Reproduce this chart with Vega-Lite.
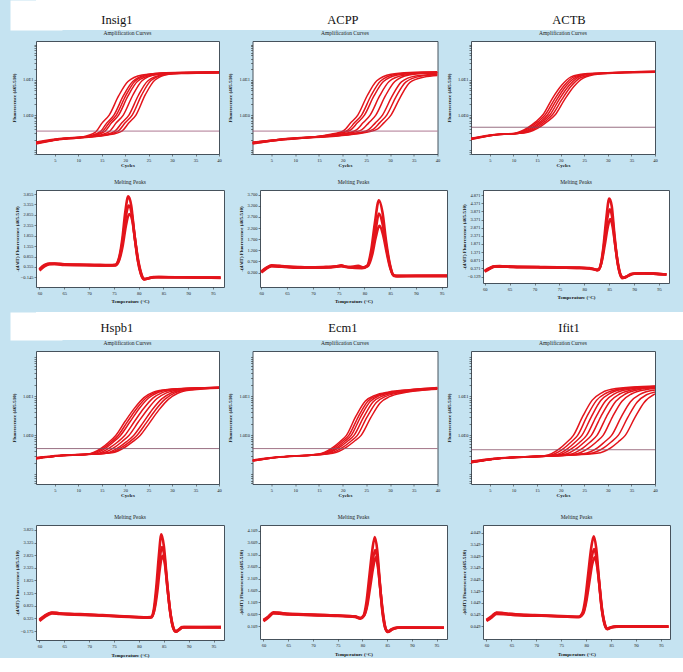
{
"$schema":"https://vega.github.io/schema/vega-lite/v6.json",
"background":"#c5e3f1",
"padding":{"left":10,"top":0,"right":0,"bottom":0},
"config":{
 "font":"Liberation Serif",
 "view":{"fill":"white","stroke":"#46525c","strokeWidth":1},
 "axis":{"grid":false,"domain":false,"tickSize":2,"tickColor":"#333","tickWidth":0.6,"labelFontSize":4.5,"labelColor":"#222","labelPadding":1,"labelOverlap":false,"labelFlush":false,"titleFontSize":5,"titleFontWeight":"bold","titleColor":"#111","labelFont":"Liberation Serif","titleFont":"Liberation Serif"},
 "axisX":{"titlePadding":0.5},
 "axisY":{"titlePadding":2},
 "title":{"fontSize":5.5,"fontWeight":"normal","color":"#222","offset":5,"font":"Liberation Serif"}
},
"datasets":{
"aI":[
{"c":1,"x":1,"y":0.15},{"c":1,"x":6,"y":0.2},{"c":1,"x":10.6,"y":0.235},{"c":1,"x":13.6,"y":0.32},{"c":1,"x":15.1,"y":0.6},{"c":1,"x":16.6,"y":1.0},{"c":1,"x":18.6,"y":3.5},{"c":1,"x":20.6,"y":9},{"c":1,"x":23.6,"y":13.8},{"c":1,"x":27.6,"y":15.6},{"c":1,"x":40,"y":16.5},
{"c":2,"x":1,"y":0.16},{"c":2,"x":6,"y":0.21},{"c":2,"x":11.6,"y":0.24},{"c":2,"x":14.6,"y":0.33},{"c":2,"x":16.1,"y":0.6},{"c":2,"x":17.6,"y":1.0},{"c":2,"x":19.6,"y":3.5},{"c":2,"x":21.6,"y":9},{"c":2,"x":24.6,"y":14},{"c":2,"x":28.6,"y":16},{"c":2,"x":40,"y":17},
{"c":3,"x":1,"y":0.17},{"c":3,"x":6,"y":0.215},{"c":3,"x":12.6,"y":0.25},{"c":3,"x":15.6,"y":0.34},{"c":3,"x":17.1,"y":0.6},{"c":3,"x":18.6,"y":1.0},{"c":3,"x":20.6,"y":3.5},{"c":3,"x":22.6,"y":9},{"c":3,"x":25.6,"y":13.5},{"c":3,"x":29.6,"y":15.3},{"c":3,"x":40,"y":16},
{"c":4,"x":1,"y":0.155},{"c":4,"x":6,"y":0.205},{"c":4,"x":13.6,"y":0.255},{"c":4,"x":16.6,"y":0.34},{"c":4,"x":18.1,"y":0.6},{"c":4,"x":19.6,"y":1.0},{"c":4,"x":21.6,"y":3.6},{"c":4,"x":23.6,"y":9.5},{"c":4,"x":26.6,"y":14.2},{"c":4,"x":30.6,"y":16},{"c":4,"x":40,"y":16.8},
{"c":5,"x":1,"y":0.165},{"c":5,"x":6,"y":0.21},{"c":5,"x":14.8,"y":0.26},{"c":5,"x":17.8,"y":0.35},{"c":5,"x":19.3,"y":0.6},{"c":5,"x":20.8,"y":1.0},{"c":5,"x":22.8,"y":3.6},{"c":5,"x":24.8,"y":9.3},{"c":5,"x":27.8,"y":13.8},{"c":5,"x":31.8,"y":15.2},{"c":5,"x":40,"y":15.8},
{"c":6,"x":1,"y":0.16},{"c":6,"x":6,"y":0.2},{"c":6,"x":16.3,"y":0.27},{"c":6,"x":19.3,"y":0.35},{"c":6,"x":20.8,"y":0.6},{"c":6,"x":22.3,"y":1.0},{"c":6,"x":24.3,"y":3.8},{"c":6,"x":26.3,"y":9.8},{"c":6,"x":29.3,"y":14.5},{"c":6,"x":33.3,"y":15.8},{"c":6,"x":40,"y":16.3},
{"c":7,"x":1,"y":0.165},{"c":7,"x":6,"y":0.21},{"c":7,"x":12.1,"y":0.245},{"c":7,"x":15.1,"y":0.335},{"c":7,"x":16.6,"y":0.6},{"c":7,"x":18.1,"y":1.0},{"c":7,"x":20.1,"y":3.5},{"c":7,"x":22.1,"y":9.2},{"c":7,"x":25.1,"y":13.9},{"c":7,"x":29.1,"y":15.8},{"c":7,"x":40,"y":16.6},
{"c":8,"x":1,"y":0.16},{"c":8,"x":6,"y":0.205},{"c":8,"x":15.5,"y":0.265},{"c":8,"x":18.5,"y":0.35},{"c":8,"x":20,"y":0.6},{"c":8,"x":21.5,"y":1.0},{"c":8,"x":23.5,"y":3.7},{"c":8,"x":25.5,"y":9.6},{"c":8,"x":28.5,"y":14.3},{"c":8,"x":32.5,"y":15.9},{"c":8,"x":40,"y":16.4}
],
"aA":[
{"c":1,"x":1,"y":0.16},{"c":1,"x":6,"y":0.19},{"c":1,"x":17.2,"y":0.28},{"c":1,"x":20.2,"y":0.36},{"c":1,"x":21.7,"y":0.6},{"c":1,"x":23.2,"y":1.0},{"c":1,"x":25.2,"y":3.6},{"c":1,"x":27.2,"y":9.5},{"c":1,"x":30.2,"y":14.5},{"c":1,"x":34.2,"y":16.3},{"c":1,"x":40,"y":17},
{"c":2,"x":1,"y":0.17},{"c":2,"x":6,"y":0.2},{"c":2,"x":18.6,"y":0.29},{"c":2,"x":21.6,"y":0.37},{"c":2,"x":23.1,"y":0.6},{"c":2,"x":24.6,"y":1.0},{"c":2,"x":26.6,"y":3.5},{"c":2,"x":28.6,"y":9},{"c":2,"x":31.6,"y":13.8},{"c":2,"x":35.6,"y":15.5},{"c":2,"x":40,"y":16},
{"c":3,"x":1,"y":0.15},{"c":3,"x":6,"y":0.19},{"c":3,"x":19.8,"y":0.29},{"c":3,"x":22.8,"y":0.37},{"c":3,"x":24.3,"y":0.6},{"c":3,"x":25.8,"y":1.0},{"c":3,"x":27.8,"y":3.5},{"c":3,"x":29.8,"y":9},{"c":3,"x":32.8,"y":13.5},{"c":3,"x":36.8,"y":15.4},{"c":3,"x":40,"y":15.8},
{"c":4,"x":1,"y":0.165},{"c":4,"x":6,"y":0.2},{"c":4,"x":21,"y":0.3},{"c":4,"x":24,"y":0.38},{"c":4,"x":25.5,"y":0.6},{"c":4,"x":27,"y":1.0},{"c":4,"x":29,"y":3.5},{"c":4,"x":31,"y":9},{"c":4,"x":34,"y":13.8},{"c":4,"x":38,"y":15.6},{"c":4,"x":40,"y":16},
{"c":5,"x":1,"y":0.16},{"c":5,"x":6,"y":0.195},{"c":5,"x":22.4,"y":0.3},{"c":5,"x":25.4,"y":0.38},{"c":5,"x":26.9,"y":0.6},{"c":5,"x":28.4,"y":1.0},{"c":5,"x":30.4,"y":3.4},{"c":5,"x":32.4,"y":8.8},{"c":5,"x":35.4,"y":13},{"c":5,"x":40,"y":14.5},
{"c":6,"x":1,"y":0.155},{"c":6,"x":6,"y":0.19},{"c":6,"x":24.2,"y":0.31},{"c":6,"x":27.2,"y":0.39},{"c":6,"x":28.7,"y":0.6},{"c":6,"x":30.2,"y":1.0},{"c":6,"x":32.2,"y":3.3},{"c":6,"x":34.2,"y":8.5},{"c":6,"x":37.2,"y":12},{"c":6,"x":40,"y":13.3},
{"c":7,"x":1,"y":0.16},{"c":7,"x":6,"y":0.195},{"c":7,"x":18,"y":0.285},{"c":7,"x":21,"y":0.365},{"c":7,"x":22.5,"y":0.6},{"c":7,"x":24,"y":1.0},{"c":7,"x":26,"y":3.6},{"c":7,"x":28,"y":9.3},{"c":7,"x":31,"y":14.2},{"c":7,"x":35,"y":16},{"c":7,"x":40,"y":16.6},
{"c":8,"x":1,"y":0.165},{"c":8,"x":6,"y":0.2},{"c":8,"x":23.3,"y":0.305},{"c":8,"x":26.3,"y":0.385},{"c":8,"x":27.8,"y":0.6},{"c":8,"x":29.3,"y":1.0},{"c":8,"x":31.3,"y":3.4},{"c":8,"x":33.3,"y":8.7},{"c":8,"x":36.3,"y":12.6},{"c":8,"x":40,"y":14}
],
"aT":[
{"c":1,"x":1,"y":0.2},{"c":1,"x":6,"y":0.27},{"c":1,"x":10.2,"y":0.3},{"c":1,"x":13.2,"y":0.45},{"c":1,"x":14.7,"y":0.64},{"c":1,"x":16.2,"y":1.0},{"c":1,"x":18.2,"y":2.9},{"c":1,"x":20.2,"y":7},{"c":1,"x":22.2,"y":12.2},{"c":1,"x":25.2,"y":15},{"c":1,"x":30,"y":16},{"c":1,"x":40,"y":17.5},
{"c":2,"x":1,"y":0.21},{"c":2,"x":6,"y":0.275},{"c":2,"x":10.7,"y":0.305},{"c":2,"x":13.7,"y":0.46},{"c":2,"x":15.2,"y":0.65},{"c":2,"x":16.7,"y":1.0},{"c":2,"x":18.7,"y":2.8},{"c":2,"x":20.7,"y":6.8},{"c":2,"x":22.7,"y":12},{"c":2,"x":25.7,"y":14.8},{"c":2,"x":30,"y":15.8},{"c":2,"x":40,"y":17},
{"c":3,"x":1,"y":0.22},{"c":3,"x":6,"y":0.28},{"c":3,"x":11.2,"y":0.31},{"c":3,"x":14.2,"y":0.46},{"c":3,"x":15.7,"y":0.65},{"c":3,"x":17.2,"y":1.0},{"c":3,"x":19.2,"y":2.8},{"c":3,"x":21.2,"y":6.8},{"c":3,"x":23.2,"y":11.8},{"c":3,"x":26.2,"y":14.8},{"c":3,"x":30,"y":15.8},{"c":3,"x":40,"y":17.2},
{"c":4,"x":1,"y":0.205},{"c":4,"x":6,"y":0.27},{"c":4,"x":11.7,"y":0.31},{"c":4,"x":14.7,"y":0.47},{"c":4,"x":16.2,"y":0.66},{"c":4,"x":17.7,"y":1.0},{"c":4,"x":19.7,"y":2.8},{"c":4,"x":21.7,"y":6.7},{"c":4,"x":23.7,"y":11.8},{"c":4,"x":26.7,"y":15},{"c":4,"x":31,"y":16},{"c":4,"x":40,"y":17.6},
{"c":5,"x":1,"y":0.215},{"c":5,"x":6,"y":0.275},{"c":5,"x":12.2,"y":0.315},{"c":5,"x":15.2,"y":0.47},{"c":5,"x":16.7,"y":0.66},{"c":5,"x":18.2,"y":1.0},{"c":5,"x":20.2,"y":2.7},{"c":5,"x":22.2,"y":6.6},{"c":5,"x":24.2,"y":11.5},{"c":5,"x":27.2,"y":14.6},{"c":5,"x":31,"y":15.6},{"c":5,"x":40,"y":16.8},
{"c":6,"x":1,"y":0.21},{"c":6,"x":6,"y":0.27},{"c":6,"x":12.8,"y":0.32},{"c":6,"x":15.8,"y":0.48},{"c":6,"x":17.3,"y":0.67},{"c":6,"x":18.8,"y":1.0},{"c":6,"x":20.8,"y":2.7},{"c":6,"x":22.8,"y":6.5},{"c":6,"x":24.8,"y":11.3},{"c":6,"x":27.8,"y":14.5},{"c":6,"x":32,"y":15.6},{"c":6,"x":40,"y":16.5}
],
"aH":[
{"c":1,"x":1,"y":0.25},{"c":1,"x":6,"y":0.3},{"c":1,"x":12,"y":0.33},{"c":1,"x":15,"y":0.48},{"c":1,"x":16.5,"y":0.67},{"c":1,"x":18,"y":1.0},{"c":1,"x":20,"y":2.3},{"c":1,"x":22,"y":5},{"c":1,"x":24,"y":9.3},{"c":1,"x":26,"y":12.8},{"c":1,"x":29,"y":15},{"c":1,"x":40,"y":16.8},
{"c":2,"x":1,"y":0.26},{"c":2,"x":6,"y":0.3},{"c":2,"x":13,"y":0.335},{"c":2,"x":16,"y":0.49},{"c":2,"x":17.5,"y":0.68},{"c":2,"x":19,"y":1.0},{"c":2,"x":21,"y":2.2},{"c":2,"x":23,"y":4.9},{"c":2,"x":25,"y":9.1},{"c":2,"x":27,"y":12.6},{"c":2,"x":30,"y":15},{"c":2,"x":40,"y":17},
{"c":3,"x":1,"y":0.27},{"c":3,"x":6,"y":0.31},{"c":3,"x":13.9,"y":0.34},{"c":3,"x":16.9,"y":0.5},{"c":3,"x":18.4,"y":0.68},{"c":3,"x":19.9,"y":1.0},{"c":3,"x":21.9,"y":2.2},{"c":3,"x":23.9,"y":4.8},{"c":3,"x":25.9,"y":9},{"c":3,"x":27.9,"y":12.5},{"c":3,"x":30.9,"y":15},{"c":3,"x":40,"y":17.2},
{"c":4,"x":1,"y":0.255},{"c":4,"x":6,"y":0.3},{"c":4,"x":14.8,"y":0.345},{"c":4,"x":17.8,"y":0.5},{"c":4,"x":19.3,"y":0.69},{"c":4,"x":20.8,"y":1.0},{"c":4,"x":22.8,"y":2.2},{"c":4,"x":24.8,"y":4.7},{"c":4,"x":26.8,"y":8.8},{"c":4,"x":28.8,"y":12.3},{"c":4,"x":31.8,"y":14.8},{"c":4,"x":40,"y":16.5},
{"c":5,"x":1,"y":0.265},{"c":5,"x":6,"y":0.305},{"c":5,"x":15.8,"y":0.35},{"c":5,"x":18.8,"y":0.51},{"c":5,"x":20.3,"y":0.69},{"c":5,"x":21.8,"y":1.0},{"c":5,"x":23.8,"y":2.1},{"c":5,"x":25.8,"y":4.6},{"c":5,"x":27.8,"y":8.6},{"c":5,"x":29.8,"y":12.2},{"c":5,"x":32.8,"y":14.8},{"c":5,"x":40,"y":16.6},
{"c":6,"x":1,"y":0.26},{"c":6,"x":6,"y":0.3},{"c":6,"x":17.2,"y":0.36},{"c":6,"x":20.2,"y":0.52},{"c":6,"x":21.7,"y":0.7},{"c":6,"x":23.2,"y":1.0},{"c":6,"x":25.2,"y":2.1},{"c":6,"x":27.2,"y":4.5},{"c":6,"x":29.2,"y":8.4},{"c":6,"x":31.2,"y":12},{"c":6,"x":34.2,"y":14.6},{"c":6,"x":40,"y":16.2},
{"c":7,"x":1,"y":0.26},{"c":7,"x":6,"y":0.3},{"c":7,"x":12.5,"y":0.333},{"c":7,"x":15.5,"y":0.485},{"c":7,"x":17,"y":0.675},{"c":7,"x":18.5,"y":1.0},{"c":7,"x":20.5,"y":2.25},{"c":7,"x":22.5,"y":4.95},{"c":7,"x":24.5,"y":9.2},{"c":7,"x":26.5,"y":12.7},{"c":7,"x":29.5,"y":15},{"c":7,"x":40,"y":16.9},
{"c":8,"x":1,"y":0.262},{"c":8,"x":6,"y":0.302},{"c":8,"x":16.5,"y":0.355},{"c":8,"x":19.5,"y":0.515},{"c":8,"x":21,"y":0.695},{"c":8,"x":22.5,"y":1.0},{"c":8,"x":24.5,"y":2.1},{"c":8,"x":26.5,"y":4.55},{"c":8,"x":28.5,"y":8.5},{"c":8,"x":30.5,"y":12.1},{"c":8,"x":33.5,"y":14.7},{"c":8,"x":40,"y":16.4}
],
"aE":[
{"c":1,"x":1,"y":0.22},{"c":1,"x":6,"y":0.27},{"c":1,"x":14.8,"y":0.33},{"c":1,"x":17.8,"y":0.48},{"c":1,"x":19.3,"y":0.67},{"c":1,"x":20.8,"y":1.0},{"c":1,"x":22.8,"y":3.1},{"c":1,"x":24.8,"y":7.6},{"c":1,"x":26.8,"y":10.6},{"c":1,"x":29.8,"y":13},{"c":1,"x":34,"y":14.8},{"c":1,"x":40,"y":16.5},
{"c":2,"x":1,"y":0.23},{"c":2,"x":6,"y":0.275},{"c":2,"x":15.3,"y":0.335},{"c":2,"x":18.3,"y":0.49},{"c":2,"x":19.8,"y":0.68},{"c":2,"x":21.3,"y":1.0},{"c":2,"x":23.3,"y":3},{"c":2,"x":25.3,"y":7.5},{"c":2,"x":27.3,"y":10.5},{"c":2,"x":30.3,"y":13},{"c":2,"x":34,"y":14.6},{"c":2,"x":40,"y":16.8},
{"c":3,"x":1,"y":0.235},{"c":3,"x":6,"y":0.28},{"c":3,"x":15.8,"y":0.34},{"c":3,"x":18.8,"y":0.49},{"c":3,"x":20.3,"y":0.68},{"c":3,"x":21.8,"y":1.0},{"c":3,"x":23.8,"y":3},{"c":3,"x":25.8,"y":7.4},{"c":3,"x":27.8,"y":10.4},{"c":3,"x":30.8,"y":12.8},{"c":3,"x":35,"y":14.6},{"c":3,"x":40,"y":16.2},
{"c":4,"x":1,"y":0.225},{"c":4,"x":6,"y":0.27},{"c":4,"x":16.4,"y":0.34},{"c":4,"x":19.4,"y":0.5},{"c":4,"x":20.9,"y":0.69},{"c":4,"x":22.4,"y":1.0},{"c":4,"x":24.4,"y":2.9},{"c":4,"x":26.4,"y":7.2},{"c":4,"x":28.4,"y":10.2},{"c":4,"x":31.4,"y":12.6},{"c":4,"x":35,"y":14.3},{"c":4,"x":40,"y":16},
{"c":5,"x":1,"y":0.23},{"c":5,"x":6,"y":0.275},{"c":5,"x":17.1,"y":0.345},{"c":5,"x":20.1,"y":0.5},{"c":5,"x":21.6,"y":0.69},{"c":5,"x":23.1,"y":1.0},{"c":5,"x":25.1,"y":2.9},{"c":5,"x":27.1,"y":7},{"c":5,"x":29.1,"y":10},{"c":5,"x":32.1,"y":12.5},{"c":5,"x":36,"y":14.3},{"c":5,"x":40,"y":15.6},
{"c":6,"x":1,"y":0.22},{"c":6,"x":6,"y":0.27},{"c":6,"x":17.9,"y":0.35},{"c":6,"x":20.9,"y":0.51},{"c":6,"x":22.4,"y":0.7},{"c":6,"x":23.9,"y":1.0},{"c":6,"x":25.9,"y":2.8},{"c":6,"x":27.9,"y":6.8},{"c":6,"x":29.9,"y":9.8},{"c":6,"x":32.9,"y":12.4},{"c":6,"x":36,"y":14},{"c":6,"x":40,"y":15.2}
],
"aF":[
{"c":1,"x":1,"y":0.2},{"c":1,"x":6,"y":0.25},{"c":1,"x":16.7,"y":0.3},{"c":1,"x":19.7,"y":0.45},{"c":1,"x":21.2,"y":0.65},{"c":1,"x":22.7,"y":1.0},{"c":1,"x":24.7,"y":3.1},{"c":1,"x":26.7,"y":8},{"c":1,"x":28.7,"y":12.3},{"c":1,"x":31.7,"y":15.8},{"c":1,"x":40,"y":18.3},
{"c":2,"x":1,"y":0.21},{"c":2,"x":6,"y":0.255},{"c":2,"x":17.6,"y":0.31},{"c":2,"x":20.6,"y":0.46},{"c":2,"x":22.1,"y":0.66},{"c":2,"x":23.6,"y":1.0},{"c":2,"x":25.6,"y":3.1},{"c":2,"x":27.6,"y":7.9},{"c":2,"x":29.6,"y":12},{"c":2,"x":32.6,"y":15.5},{"c":2,"x":40,"y":18},
{"c":3,"x":1,"y":0.22},{"c":3,"x":6,"y":0.26},{"c":3,"x":18.5,"y":0.31},{"c":3,"x":21.5,"y":0.46},{"c":3,"x":23,"y":0.66},{"c":3,"x":24.5,"y":1.0},{"c":3,"x":26.5,"y":3},{"c":3,"x":28.5,"y":7.8},{"c":3,"x":30.5,"y":12},{"c":3,"x":33.5,"y":15.5},{"c":3,"x":40,"y":17.8},
{"c":4,"x":1,"y":0.205},{"c":4,"x":6,"y":0.25},{"c":4,"x":19.5,"y":0.315},{"c":4,"x":22.5,"y":0.47},{"c":4,"x":24,"y":0.66},{"c":4,"x":25.5,"y":1.0},{"c":4,"x":27.5,"y":3},{"c":4,"x":29.5,"y":7.6},{"c":4,"x":31.5,"y":11.8},{"c":4,"x":34.5,"y":15.2},{"c":4,"x":40,"y":17.5},
{"c":5,"x":1,"y":0.215},{"c":5,"x":6,"y":0.255},{"c":5,"x":20.5,"y":0.32},{"c":5,"x":23.5,"y":0.47},{"c":5,"x":25,"y":0.67},{"c":5,"x":26.5,"y":1.0},{"c":5,"x":28.5,"y":3},{"c":5,"x":30.5,"y":7.5},{"c":5,"x":32.5,"y":11.5},{"c":5,"x":35.5,"y":15},{"c":5,"x":40,"y":17},
{"c":6,"x":1,"y":0.21},{"c":6,"x":6,"y":0.25},{"c":6,"x":23,"y":0.33},{"c":6,"x":26,"y":0.48},{"c":6,"x":27.5,"y":0.67},{"c":6,"x":29,"y":1.0},{"c":6,"x":31,"y":3},{"c":6,"x":33,"y":7.5},{"c":6,"x":35,"y":11.5},{"c":6,"x":38,"y":14.8},{"c":6,"x":40,"y":15.8},
{"c":7,"x":1,"y":0.2},{"c":7,"x":6,"y":0.245},{"c":7,"x":24.8,"y":0.34},{"c":7,"x":27.8,"y":0.48},{"c":7,"x":29.3,"y":0.68},{"c":7,"x":30.8,"y":1.0},{"c":7,"x":32.8,"y":2.9},{"c":7,"x":34.8,"y":7.3},{"c":7,"x":36.8,"y":11.2},{"c":7,"x":40,"y":14.5},
{"c":8,"x":1,"y":0.21},{"c":8,"x":6,"y":0.25},{"c":8,"x":27.7,"y":0.35},{"c":8,"x":30.7,"y":0.49},{"c":8,"x":32.2,"y":0.68},{"c":8,"x":33.7,"y":1.0},{"c":8,"x":35.7,"y":2.8},{"c":8,"x":37.7,"y":7},{"c":8,"x":40,"y":11.5},
{"c":9,"x":1,"y":0.21},{"c":9,"x":6,"y":0.25},{"c":9,"x":21.7,"y":0.325},{"c":9,"x":24.7,"y":0.475},{"c":9,"x":26.2,"y":0.67},{"c":9,"x":27.7,"y":1.0},{"c":9,"x":29.7,"y":3},{"c":9,"x":31.7,"y":7.5},{"c":9,"x":33.7,"y":11.5},{"c":9,"x":36.7,"y":15},{"c":9,"x":40,"y":16.5},
{"c":10,"x":1,"y":0.205},{"c":10,"x":6,"y":0.25},{"c":10,"x":26.2,"y":0.345},{"c":10,"x":29.2,"y":0.485},{"c":10,"x":30.7,"y":0.68},{"c":10,"x":32.2,"y":1.0},{"c":10,"x":34.2,"y":2.85},{"c":10,"x":36.2,"y":7.1},{"c":10,"x":38.2,"y":11},{"c":10,"x":40,"y":13}
],
"mI":[
{"c":1,"x":60,"y":0.22},{"c":1,"x":61,"y":0.42},{"c":1,"x":62,"y":0.52},{"c":1,"x":63,"y":0.52},{"c":1,"x":65,"y":0.48},{"c":1,"x":68,"y":0.47},{"c":1,"x":71,"y":0.46},{"c":1,"x":74,"y":0.44},{"c":1,"x":75.3,"y":0.46},{"c":1,"x":76,"y":0.75},{"c":1,"x":76.7,"y":1.7},{"c":1,"x":77.3,"y":3.0},{"c":1,"x":77.9,"y":3.75},{"c":1,"x":78.5,"y":3.3},{"c":1,"x":79.1,"y":2.0},{"c":1,"x":79.8,"y":0.7},{"c":1,"x":80.4,"y":0.05},{"c":1,"x":81,"y":-0.22},{"c":1,"x":81.8,"y":-0.2},{"c":1,"x":83,"y":-0.13},{"c":1,"x":86,"y":-0.14},{"c":1,"x":90,"y":-0.14},{"c":1,"x":96.5,"y":-0.17},
{"c":2,"x":60,"y":0.18},{"c":2,"x":61,"y":0.38},{"c":2,"x":62,"y":0.48},{"c":2,"x":63,"y":0.5},{"c":2,"x":65,"y":0.45},{"c":2,"x":68,"y":0.44},{"c":2,"x":71,"y":0.43},{"c":2,"x":74,"y":0.42},{"c":2,"x":75.3,"y":0.44},{"c":2,"x":76,"y":0.7},{"c":2,"x":76.7,"y":1.5},{"c":2,"x":77.3,"y":2.6},{"c":2,"x":78,"y":3.3},{"c":2,"x":78.6,"y":2.9},{"c":2,"x":79.2,"y":1.8},{"c":2,"x":79.9,"y":0.6},{"c":2,"x":80.5,"y":0.0},{"c":2,"x":81.1,"y":-0.25},{"c":2,"x":82,"y":-0.19},{"c":2,"x":83.5,"y":-0.14},{"c":2,"x":90,"y":-0.15},{"c":2,"x":96.5,"y":-0.16},
{"c":3,"x":60,"y":0.25},{"c":3,"x":61,"y":0.45},{"c":3,"x":62,"y":0.5},{"c":3,"x":64,"y":0.49},{"c":3,"x":67,"y":0.46},{"c":3,"x":70,"y":0.44},{"c":3,"x":73,"y":0.42},{"c":3,"x":75.3,"y":0.43},{"c":3,"x":76.1,"y":0.7},{"c":3,"x":76.8,"y":1.4},{"c":3,"x":77.4,"y":2.3},{"c":3,"x":78.1,"y":2.9},{"c":3,"x":78.7,"y":2.6},{"c":3,"x":79.3,"y":1.6},{"c":3,"x":80,"y":0.55},{"c":3,"x":80.6,"y":-0.02},{"c":3,"x":81.2,"y":-0.24},{"c":3,"x":82.2,"y":-0.18},{"c":3,"x":84,"y":-0.13},{"c":3,"x":92,"y":-0.15},{"c":3,"x":96.5,"y":-0.16}
],
"mA":[
{"c":1,"x":60,"y":0.22},{"c":1,"x":61,"y":0.4},{"c":1,"x":62,"y":0.52},{"c":1,"x":63.5,"y":0.5},{"c":1,"x":66,"y":0.45},{"c":1,"x":69,"y":0.44},{"c":1,"x":72,"y":0.45},{"c":1,"x":74.5,"y":0.47},{"c":1,"x":75.5,"y":0.52},{"c":1,"x":76.5,"y":0.46},{"c":1,"x":78,"y":0.44},{"c":1,"x":79.5,"y":0.42},{"c":1,"x":80.5,"y":0.5},{"c":1,"x":81.3,"y":1.2},{"c":1,"x":82,"y":2.4},{"c":1,"x":82.8,"y":3.45},{"c":1,"x":83.5,"y":2.9},{"c":1,"x":84.2,"y":1.6},{"c":1,"x":84.9,"y":0.6},{"c":1,"x":85.5,"y":0.12},{"c":1,"x":86,"y":0.05},{"c":1,"x":88,"y":0.05},{"c":1,"x":96,"y":0.05},
{"c":2,"x":60,"y":0.2},{"c":2,"x":61,"y":0.38},{"c":2,"x":62,"y":0.48},{"c":2,"x":64,"y":0.46},{"c":2,"x":67,"y":0.42},{"c":2,"x":70,"y":0.42},{"c":2,"x":73,"y":0.43},{"c":2,"x":75.5,"y":0.48},{"c":2,"x":77,"y":0.43},{"c":2,"x":79.5,"y":0.4},{"c":2,"x":80.6,"y":0.5},{"c":2,"x":81.4,"y":1.1},{"c":2,"x":82.1,"y":2.0},{"c":2,"x":82.8,"y":2.85},{"c":2,"x":83.5,"y":2.4},{"c":2,"x":84.2,"y":1.4},{"c":2,"x":84.9,"y":0.55},{"c":2,"x":85.6,"y":0.08},{"c":2,"x":86.3,"y":0.04},{"c":2,"x":90,"y":0.05},{"c":2,"x":96,"y":0.05},
{"c":3,"x":60,"y":0.25},{"c":3,"x":61,"y":0.42},{"c":3,"x":62,"y":0.5},{"c":3,"x":64,"y":0.48},{"c":3,"x":67,"y":0.45},{"c":3,"x":70,"y":0.43},{"c":3,"x":73,"y":0.44},{"c":3,"x":75.5,"y":0.5},{"c":3,"x":77,"y":0.45},{"c":3,"x":78.8,"y":0.5},{"c":3,"x":79.8,"y":0.43},{"c":3,"x":80.7,"y":0.5},{"c":3,"x":81.5,"y":1.0},{"c":3,"x":82.2,"y":1.8},{"c":3,"x":82.9,"y":2.3},{"c":3,"x":83.6,"y":1.9},{"c":3,"x":84.3,"y":1.1},{"c":3,"x":85,"y":0.4},{"c":3,"x":85.7,"y":0.05},{"c":3,"x":86.5,"y":0.04},{"c":3,"x":96,"y":0.05}
],
"mT":[
{"c":1,"x":60,"y":0.2},{"c":1,"x":61,"y":0.38},{"c":1,"x":62,"y":0.5},{"c":1,"x":63,"y":0.52},{"c":1,"x":65,"y":0.47},{"c":1,"x":68,"y":0.46},{"c":1,"x":72,"y":0.45},{"c":1,"x":76,"y":0.43},{"c":1,"x":79,"y":0.42},{"c":1,"x":81,"y":0.4},{"c":1,"x":82,"y":0.33},{"c":1,"x":82.6,"y":0.25},{"c":1,"x":83.2,"y":0.5},{"c":1,"x":83.8,"y":1.6},{"c":1,"x":84.4,"y":3.4},{"c":1,"x":85,"y":4.65},{"c":1,"x":85.5,"y":4.2},{"c":1,"x":86,"y":2.6},{"c":1,"x":86.6,"y":0.9},{"c":1,"x":87.2,"y":0.0},{"c":1,"x":87.6,"y":-0.22},{"c":1,"x":88.3,"y":-0.15},{"c":1,"x":89.5,"y":0.05},{"c":1,"x":92,"y":0.08},{"c":1,"x":96.5,"y":0.0},
{"c":2,"x":60,"y":0.17},{"c":2,"x":61,"y":0.35},{"c":2,"x":62,"y":0.48},{"c":2,"x":64,"y":0.48},{"c":2,"x":67,"y":0.45},{"c":2,"x":71,"y":0.44},{"c":2,"x":75,"y":0.42},{"c":2,"x":79,"y":0.4},{"c":2,"x":81.2,"y":0.37},{"c":2,"x":82.2,"y":0.3},{"c":2,"x":82.8,"y":0.28},{"c":2,"x":83.4,"y":0.7},{"c":2,"x":84,"y":1.9},{"c":2,"x":84.6,"y":3.4},{"c":2,"x":85.1,"y":4.0},{"c":2,"x":85.6,"y":3.5},{"c":2,"x":86.1,"y":2.1},{"c":2,"x":86.7,"y":0.7},{"c":2,"x":87.3,"y":-0.05},{"c":2,"x":87.8,"y":-0.2},{"c":2,"x":88.5,"y":-0.12},{"c":2,"x":90,"y":0.05},{"c":2,"x":92,"y":0.07},{"c":2,"x":96.5,"y":0.0},
{"c":3,"x":60,"y":0.23},{"c":3,"x":61,"y":0.4},{"c":3,"x":62,"y":0.5},{"c":3,"x":64,"y":0.5},{"c":3,"x":67,"y":0.47},{"c":3,"x":71,"y":0.45},{"c":3,"x":75,"y":0.43},{"c":3,"x":79,"y":0.41},{"c":3,"x":81.2,"y":0.36},{"c":3,"x":82.2,"y":0.3},{"c":3,"x":82.9,"y":0.32},{"c":3,"x":83.5,"y":0.8},{"c":3,"x":84.1,"y":1.8},{"c":3,"x":84.7,"y":2.9},{"c":3,"x":85.2,"y":3.4},{"c":3,"x":85.7,"y":2.9},{"c":3,"x":86.2,"y":1.8},{"c":3,"x":86.8,"y":0.6},{"c":3,"x":87.4,"y":-0.1},{"c":3,"x":88,"y":-0.2},{"c":3,"x":88.8,"y":-0.08},{"c":3,"x":90,"y":0.06},{"c":3,"x":92,"y":0.07},{"c":3,"x":96.5,"y":0.0}
],
"mH":[
{"c":1,"x":60,"y":0.25},{"c":1,"x":61,"y":0.4},{"c":1,"x":62.5,"y":0.55},{"c":1,"x":64,"y":0.52},{"c":1,"x":67,"y":0.5},{"c":1,"x":70,"y":0.48},{"c":1,"x":74,"y":0.44},{"c":1,"x":78,"y":0.4},{"c":1,"x":81,"y":0.37},{"c":1,"x":82.4,"y":0.38},{"c":1,"x":83,"y":0.7},{"c":1,"x":83.5,"y":1.6},{"c":1,"x":84,"y":2.8},{"c":1,"x":84.5,"y":3.65},{"c":1,"x":85,"y":3.2},{"c":1,"x":85.6,"y":1.9},{"c":1,"x":86.2,"y":0.7},{"c":1,"x":86.8,"y":0.0},{"c":1,"x":87.3,"y":-0.18},{"c":1,"x":88,"y":-0.12},{"c":1,"x":88.6,"y":-0.02},{"c":1,"x":92,"y":-0.02},{"c":1,"x":96.5,"y":-0.02},
{"c":2,"x":60,"y":0.22},{"c":2,"x":61,"y":0.37},{"c":2,"x":62.5,"y":0.52},{"c":2,"x":64,"y":0.5},{"c":2,"x":67,"y":0.47},{"c":2,"x":70,"y":0.45},{"c":2,"x":74,"y":0.42},{"c":2,"x":78,"y":0.38},{"c":2,"x":81,"y":0.35},{"c":2,"x":82.5,"y":0.36},{"c":2,"x":83.1,"y":0.7},{"c":2,"x":83.6,"y":1.5},{"c":2,"x":84.1,"y":2.5},{"c":2,"x":84.6,"y":3.15},{"c":2,"x":85.1,"y":2.8},{"c":2,"x":85.7,"y":1.6},{"c":2,"x":86.3,"y":0.55},{"c":2,"x":86.9,"y":-0.05},{"c":2,"x":87.4,"y":-0.2},{"c":2,"x":88.1,"y":-0.12},{"c":2,"x":88.8,"y":-0.03},{"c":2,"x":96.5,"y":-0.02},
{"c":3,"x":60,"y":0.28},{"c":3,"x":61,"y":0.43},{"c":3,"x":62.5,"y":0.56},{"c":3,"x":64,"y":0.53},{"c":3,"x":67,"y":0.49},{"c":3,"x":71,"y":0.46},{"c":3,"x":75,"y":0.42},{"c":3,"x":79,"y":0.38},{"c":3,"x":82,"y":0.35},{"c":3,"x":82.6,"y":0.4},{"c":3,"x":83.2,"y":0.75},{"c":3,"x":83.7,"y":1.4},{"c":3,"x":84.2,"y":2.3},{"c":3,"x":84.7,"y":2.8},{"c":3,"x":85.2,"y":2.5},{"c":3,"x":85.8,"y":1.4},{"c":3,"x":86.4,"y":0.45},{"c":3,"x":87,"y":-0.08},{"c":3,"x":87.5,"y":-0.2},{"c":3,"x":88.2,"y":-0.1},{"c":3,"x":89,"y":-0.02},{"c":3,"x":96.5,"y":-0.03}
],
"mE":[
{"c":1,"x":60,"y":0.35},{"c":1,"x":61,"y":0.5},{"c":1,"x":62,"y":0.68},{"c":1,"x":63,"y":0.68},{"c":1,"x":65,"y":0.62},{"c":1,"x":68,"y":0.6},{"c":1,"x":72,"y":0.58},{"c":1,"x":76,"y":0.55},{"c":1,"x":78.5,"y":0.52},{"c":1,"x":79.5,"y":0.45},{"c":1,"x":80.2,"y":0.55},{"c":1,"x":80.8,"y":1.1},{"c":1,"x":81.4,"y":2.2},{"c":1,"x":82,"y":3.3},{"c":1,"x":82.5,"y":3.85},{"c":1,"x":83,"y":3.3},{"c":1,"x":83.5,"y":2.0},{"c":1,"x":84,"y":0.8},{"c":1,"x":84.6,"y":0.05},{"c":1,"x":85.1,"y":-0.12},{"c":1,"x":85.8,"y":-0.02},{"c":1,"x":87,"y":0.06},{"c":1,"x":90,"y":0.06},{"c":1,"x":96.5,"y":0.05},
{"c":2,"x":60,"y":0.32},{"c":2,"x":61,"y":0.48},{"c":2,"x":62,"y":0.65},{"c":2,"x":64,"y":0.62},{"c":2,"x":67,"y":0.6},{"c":2,"x":71,"y":0.57},{"c":2,"x":75,"y":0.54},{"c":2,"x":78.5,"y":0.5},{"c":2,"x":79.6,"y":0.43},{"c":2,"x":80.3,"y":0.55},{"c":2,"x":80.9,"y":1.0},{"c":2,"x":81.5,"y":2.0},{"c":2,"x":82.1,"y":2.9},{"c":2,"x":82.6,"y":3.3},{"c":2,"x":83.1,"y":2.8},{"c":2,"x":83.6,"y":1.7},{"c":2,"x":84.1,"y":0.7},{"c":2,"x":84.7,"y":0.0},{"c":2,"x":85.2,"y":-0.12},{"c":2,"x":86,"y":-0.02},{"c":2,"x":87.5,"y":0.06},{"c":2,"x":96.5,"y":0.05},
{"c":3,"x":60,"y":0.38},{"c":3,"x":61,"y":0.52},{"c":3,"x":62,"y":0.7},{"c":3,"x":64,"y":0.66},{"c":3,"x":67,"y":0.62},{"c":3,"x":71,"y":0.59},{"c":3,"x":75,"y":0.56},{"c":3,"x":78.5,"y":0.53},{"c":3,"x":79.7,"y":0.46},{"c":3,"x":80.4,"y":0.58},{"c":3,"x":81,"y":1.0},{"c":3,"x":81.6,"y":1.8},{"c":3,"x":82.2,"y":2.6},{"c":3,"x":82.7,"y":3.0},{"c":3,"x":83.2,"y":2.5},{"c":3,"x":83.7,"y":1.5},{"c":3,"x":84.2,"y":0.6},{"c":3,"x":84.8,"y":-0.03},{"c":3,"x":85.3,"y":-0.1},{"c":3,"x":86.2,"y":0.0},{"c":3,"x":88,"y":0.06},{"c":3,"x":96.5,"y":0.05}
],
"mF":[
{"c":1,"x":60,"y":0.3},{"c":1,"x":61,"y":0.45},{"c":1,"x":62,"y":0.62},{"c":1,"x":63,"y":0.62},{"c":1,"x":65,"y":0.55},{"c":1,"x":68,"y":0.53},{"c":1,"x":72,"y":0.5},{"c":1,"x":76,"y":0.47},{"c":1,"x":78.5,"y":0.46},{"c":1,"x":79.2,"y":0.6},{"c":1,"x":79.8,"y":1.2},{"c":1,"x":80.4,"y":2.3},{"c":1,"x":81,"y":3.4},{"c":1,"x":81.5,"y":3.9},{"c":1,"x":82,"y":3.4},{"c":1,"x":82.5,"y":2.2},{"c":1,"x":83,"y":1.0},{"c":1,"x":83.6,"y":0.2},{"c":1,"x":84.1,"y":-0.05},{"c":1,"x":84.8,"y":0.0},{"c":1,"x":86,"y":0.05},{"c":1,"x":90,"y":0.05},{"c":1,"x":96.5,"y":0.04},
{"c":2,"x":60,"y":0.28},{"c":2,"x":61,"y":0.42},{"c":2,"x":62,"y":0.58},{"c":2,"x":64,"y":0.56},{"c":2,"x":67,"y":0.52},{"c":2,"x":71,"y":0.5},{"c":2,"x":75,"y":0.47},{"c":2,"x":78.5,"y":0.44},{"c":2,"x":79.3,"y":0.6},{"c":2,"x":79.9,"y":1.1},{"c":2,"x":80.5,"y":2.1},{"c":2,"x":81.1,"y":3.0},{"c":2,"x":81.6,"y":3.35},{"c":2,"x":82.1,"y":2.9},{"c":2,"x":82.6,"y":1.9},{"c":2,"x":83.1,"y":0.85},{"c":2,"x":83.7,"y":0.15},{"c":2,"x":84.2,"y":-0.07},{"c":2,"x":85,"y":0.0},{"c":2,"x":87,"y":0.05},{"c":2,"x":96.5,"y":0.04},
{"c":3,"x":60,"y":0.33},{"c":3,"x":61,"y":0.48},{"c":3,"x":62,"y":0.64},{"c":3,"x":64,"y":0.6},{"c":3,"x":67,"y":0.55},{"c":3,"x":71,"y":0.52},{"c":3,"x":75,"y":0.49},{"c":3,"x":78.5,"y":0.46},{"c":3,"x":79.4,"y":0.6},{"c":3,"x":80,"y":1.1},{"c":3,"x":80.6,"y":1.9},{"c":3,"x":81.2,"y":2.7},{"c":3,"x":81.7,"y":3.0},{"c":3,"x":82.2,"y":2.6},{"c":3,"x":82.7,"y":1.7},{"c":3,"x":83.2,"y":0.75},{"c":3,"x":83.8,"y":0.1},{"c":3,"x":84.3,"y":-0.06},{"c":3,"x":85.2,"y":0.02},{"c":3,"x":88,"y":0.05},{"c":3,"x":96.5,"y":0.04}
]
},
"spacing":8,
"vconcat":[
{"spacing":0,"vconcat":[
 {"width":647,"height":30,"view":{"stroke":null},"data":{"values":[{"g":"Insig1"},{"g":"ACPP"},{"g":"ACTB"}]},"mark":{"type":"text","fontSize":12.5,"fontWeight":"normal","font":"Liberation Serif","color":"#111","dy":5},"encoding":{"x":{"field":"g","type":"nominal","scale":{"type":"point","padding":0.431,"align":0.415,"domain":["Insig1","ACPP","ACTB"]},"axis":null},"y":{"datum":0.5,"type":"quantitative","scale":{"domain":[0,1]},"axis":{"domain":true,"domainColor":"white","domainWidth":52,"ticks":false,"labels":false,"title":null,"grid":false}},"text":{"field":"g"}}},
 {"spacing":11,"vconcat":[
  {"spacing":4.5,"hconcat":[
   {"title":"Amplification Curves","width":183,"height":113,"layer":[
    {"data":{"name":"aI"},"mark":{"type":"line","interpolate":"monotone","color":"#e3141b","strokeWidth":1.5,"clip":true},"encoding":{"x":{"field":"x","type":"quantitative","scale":{"domain":[1,40],"nice":false},"axis":{"values":[5,10,15,20,25,30,35,40],"title":"Cycles"}},"y":{"field":"y","type":"quantitative","scale":{"type":"log","domain":[0.078,128],"nice":false},"axis":{"values":[0.08,0.09,0.1,0.2,0.3,0.4,0.5,0.6,0.7,0.8,0.9,1,2,3,4,5,6,7,8,9,10,20,30,40,50,60,70,80,90,100],"labelExpr":"datum.value == 1 ? '1.0E0' : (datum.value == 10 ? '1.0E1' : '')","title":"Fluorescence (465-510)","minExtent":12,"maxExtent":12,"titlePadding":8}},"detail":{"field":"c","type":"nominal"}}},
    {"data":{"values":[{}]},"mark":{"type":"rule","color":"#9a5575","strokeWidth":0.8},"encoding":{"y":{"datum":0.35,"type":"quantitative"}}}
   ]},
   {"title":"Amplification Curves","width":185,"height":113,"layer":[
    {"data":{"name":"aA"},"mark":{"type":"line","interpolate":"monotone","color":"#e3141b","strokeWidth":1.5,"clip":true},"encoding":{"x":{"field":"x","type":"quantitative","scale":{"domain":[1,40],"nice":false},"axis":{"values":[5,10,15,20,25,30,35,40],"title":"Cycles"}},"y":{"field":"y","type":"quantitative","scale":{"type":"log","domain":[0.078,128],"nice":false},"axis":{"values":[0.08,0.09,0.1,0.2,0.3,0.4,0.5,0.6,0.7,0.8,0.9,1,2,3,4,5,6,7,8,9,10,20,30,40,50,60,70,80,90,100],"labelExpr":"datum.value == 1 ? '1.0E0' : (datum.value == 10 ? '1.0E1' : '')","title":"Fluorescence (465-510)","minExtent":12,"maxExtent":12,"titlePadding":8}},"detail":{"field":"c","type":"nominal"}}},
    {"data":{"values":[{}]},"mark":{"type":"rule","color":"#9a5575","strokeWidth":0.8},"encoding":{"y":{"datum":0.35,"type":"quantitative"}}}
   ]},
   {"title":"Amplification Curves","width":184,"height":113,"layer":[
    {"data":{"name":"aT"},"mark":{"type":"line","interpolate":"monotone","color":"#e3141b","strokeWidth":1.5,"clip":true},"encoding":{"x":{"field":"x","type":"quantitative","scale":{"domain":[1,40],"nice":false},"axis":{"values":[5,10,15,20,25,30,35,40],"title":"Cycles"}},"y":{"field":"y","type":"quantitative","scale":{"type":"log","domain":[0.078,128],"nice":false},"axis":{"values":[0.08,0.09,0.1,0.2,0.3,0.4,0.5,0.6,0.7,0.8,0.9,1,2,3,4,5,6,7,8,9,10,20,30,40,50,60,70,80,90,100],"labelExpr":"datum.value == 1 ? '1.0E0' : (datum.value == 10 ? '1.0E1' : '')","title":"Fluorescence (465-510)","minExtent":12,"maxExtent":12,"titlePadding":8}},"detail":{"field":"c","type":"nominal"}}},
    {"data":{"values":[{}]},"mark":{"type":"rule","color":"#7e4a62","strokeWidth":0.8},"encoding":{"y":{"datum":0.45,"type":"quantitative"}}}
   ]}
  ]},
  {"spacing":12,"hconcat":[
   {"title":"Melting Peaks","width":188,"height":97,"data":{"name":"mI"},"mark":{"type":"line","interpolate":"monotone","color":"#e3141b","strokeWidth":2.6,"clip":true},"encoding":{"x":{"field":"x","type":"quantitative","scale":{"domain":[59.3,97.2],"nice":false},"axis":{"values":[60,65,70,75,80,85,90,95],"title":"Temperature (°C)","titlePadding":4}},"y":{"field":"y","type":"quantitative","scale":{"domain":[-0.61,4.05],"nice":false,"zero":false},"axis":{"values":[-0.145,0.355,0.855,1.355,1.855,2.355,2.855,3.355,3.855],"format":".3f","title":"-(d/dT) Fluorescence (465-510)","minExtent":15,"maxExtent":15}},"detail":{"field":"c","type":"nominal"}}},
   {"title":"Melting Peaks","width":187,"height":97,"data":{"name":"mA"},"mark":{"type":"line","interpolate":"monotone","color":"#e3141b","strokeWidth":2.6,"clip":true},"encoding":{"x":{"field":"x","type":"quantitative","scale":{"domain":[59.75,96.0],"nice":false},"axis":{"values":[60,65,70,75,80,85,90,95],"title":"Temperature (°C)","titlePadding":4}},"y":{"field":"y","type":"quantitative","scale":{"domain":[-0.45,3.91],"nice":false,"zero":false},"axis":{"values":[0.2,0.7,1.2,1.7,2.2,2.7,3.2,3.7],"format":".3f","title":"-(d/dT) Fluorescence (465-510)","minExtent":15,"maxExtent":15}},"detail":{"field":"c","type":"nominal"}}},
   {"title":"Melting Peaks","width":186,"height":93,"data":{"name":"mT"},"mark":{"type":"line","interpolate":"monotone","color":"#e3141b","strokeWidth":2.6,"clip":true},"encoding":{"x":{"field":"x","type":"quantitative","scale":{"domain":[59.66,97.0],"nice":false},"axis":{"values":[60,65,70,75,80,85,90,95],"title":"Temperature (°C)","titlePadding":4}},"y":{"field":"y","type":"quantitative","scale":{"domain":[-0.52,5.18],"nice":false,"zero":false},"axis":{"values":[-0.129,0.371,0.871,1.371,1.871,2.371,2.871,3.371,3.871,4.371,4.871],"format":".3f","title":"-(d/dT) Fluorescence (465-510)","minExtent":15,"maxExtent":15}},"detail":{"field":"c","type":"nominal"}}}
  ]}
 ]}
]},
{"spacing":0,"vconcat":[
 {"width":647,"height":28,"view":{"stroke":null},"data":{"values":[{"g":"Hspb1"},{"g":"Ecm1"},{"g":"Ifit1"}]},"mark":{"type":"text","fontSize":12.5,"fontWeight":"normal","font":"Liberation Serif","color":"#111","dy":2},"encoding":{"x":{"field":"g","type":"nominal","scale":{"type":"point","padding":0.431,"align":0.415,"domain":["Hspb1","Ecm1","Ifit1"]},"axis":null},"y":{"datum":0.5,"type":"quantitative","scale":{"domain":[0,1]},"axis":{"domain":true,"domainColor":"white","domainWidth":52,"ticks":false,"labels":false,"title":null,"grid":false}},"text":{"field":"g"}}},
 {"spacing":16,"vconcat":[
  {"spacing":4.5,"hconcat":[
   {"title":"Amplification Curves","width":183,"height":133,"layer":[
    {"data":{"name":"aH"},"mark":{"type":"line","interpolate":"monotone","color":"#e3141b","strokeWidth":1.5,"clip":true},"encoding":{"x":{"field":"x","type":"quantitative","scale":{"domain":[1,40],"nice":false},"axis":{"values":[5,10,15,20,25,30,35,40],"title":"Cycles"}},"y":{"field":"y","type":"quantitative","scale":{"type":"log","domain":[0.057,145],"nice":false},"axis":{"values":[0.06,0.07,0.08,0.09,0.1,0.2,0.3,0.4,0.5,0.6,0.7,0.8,0.9,1,2,3,4,5,6,7,8,9,10,20,30,40,50,60,70,80,90,100],"labelExpr":"datum.value == 1 ? '1.0E0' : (datum.value == 10 ? '1.0E1' : '')","title":"Fluorescence (465-510)","minExtent":12,"maxExtent":12,"titlePadding":8}},"detail":{"field":"c","type":"nominal"}}},
    {"data":{"values":[{}]},"mark":{"type":"rule","color":"#7e4a62","strokeWidth":0.8},"encoding":{"y":{"datum":0.46,"type":"quantitative"}}}
   ]},
   {"title":"Amplification Curves","width":185,"height":133,"layer":[
    {"data":{"name":"aE"},"mark":{"type":"line","interpolate":"monotone","color":"#e3141b","strokeWidth":1.5,"clip":true},"encoding":{"x":{"field":"x","type":"quantitative","scale":{"domain":[1,40],"nice":false},"axis":{"values":[5,10,15,20,25,30,35,40],"title":"Cycles"}},"y":{"field":"y","type":"quantitative","scale":{"type":"log","domain":[0.057,145],"nice":false},"axis":{"values":[0.06,0.07,0.08,0.09,0.1,0.2,0.3,0.4,0.5,0.6,0.7,0.8,0.9,1,2,3,4,5,6,7,8,9,10,20,30,40,50,60,70,80,90,100],"labelExpr":"datum.value == 1 ? '1.0E0' : (datum.value == 10 ? '1.0E1' : '')","title":"Fluorescence (465-510)","minExtent":12,"maxExtent":12,"titlePadding":8}},"detail":{"field":"c","type":"nominal"}}},
    {"data":{"values":[{}]},"mark":{"type":"rule","color":"#8a5068","strokeWidth":0.8},"encoding":{"y":{"datum":0.46,"type":"quantitative"}}}
   ]},
   {"title":"Amplification Curves","width":184,"height":133,"layer":[
    {"data":{"name":"aF"},"mark":{"type":"line","interpolate":"monotone","color":"#e3141b","strokeWidth":1.5,"clip":true},"encoding":{"x":{"field":"x","type":"quantitative","scale":{"domain":[1,40],"nice":false},"axis":{"values":[5,10,15,20,25,30,35,40],"title":"Cycles"}},"y":{"field":"y","type":"quantitative","scale":{"type":"log","domain":[0.057,145],"nice":false},"axis":{"values":[0.06,0.07,0.08,0.09,0.1,0.2,0.3,0.4,0.5,0.6,0.7,0.8,0.9,1,2,3,4,5,6,7,8,9,10,20,30,40,50,60,70,80,90,100],"labelExpr":"datum.value == 1 ? '1.0E0' : (datum.value == 10 ? '1.0E1' : '')","title":"Fluorescence (465-510)","minExtent":12,"maxExtent":12,"titlePadding":8}},"detail":{"field":"c","type":"nominal"}}},
    {"data":{"values":[{}]},"mark":{"type":"rule","color":"#8a5068","strokeWidth":0.8},"encoding":{"y":{"datum":0.43,"type":"quantitative"}}}
   ]}
  ]},
  {"spacing":12,"hconcat":[
   {"title":"Melting Peaks","width":188,"height":115,"data":{"name":"mH"},"mark":{"type":"line","interpolate":"monotone","color":"#e3141b","strokeWidth":2.6,"clip":true},"encoding":{"x":{"field":"x","type":"quantitative","scale":{"domain":[59.3,97.1],"nice":false},"axis":{"values":[60,65,70,75,80,85,90,95],"title":"Temperature (°C)","titlePadding":5}},"y":{"field":"y","type":"quantitative","scale":{"domain":[-0.53,4.02],"nice":false,"zero":false},"axis":{"values":[-0.175,0.325,0.825,1.325,1.825,2.325,2.825,3.325,3.825],"format":".3f","title":"-(d/dT) Fluorescence (465-510)","minExtent":15,"maxExtent":15}},"detail":{"field":"c","type":"nominal"}}},
   {"title":"Melting Peaks","width":187,"height":114,"data":{"name":"mE"},"mark":{"type":"line","interpolate":"monotone","color":"#e3141b","strokeWidth":2.6,"clip":true},"encoding":{"x":{"field":"x","type":"quantitative","scale":{"domain":[59.3,97.1],"nice":false},"axis":{"values":[60,65,70,75,80,85,90,95],"title":"Temperature (°C)","titlePadding":5}},"y":{"field":"y","type":"quantitative","scale":{"domain":[-0.42,4.35],"nice":false,"zero":false},"axis":{"values":[0.109,0.609,1.109,1.609,2.109,2.609,3.109,3.609,4.109],"format":".3f","title":"-(d/dT) Fluorescence (465-510)","minExtent":15,"maxExtent":15}},"detail":{"field":"c","type":"nominal"}}},
   {"title":"Melting Peaks","width":187,"height":114,"data":{"name":"mF"},"mark":{"type":"line","interpolate":"monotone","color":"#e3141b","strokeWidth":2.6,"clip":true},"encoding":{"x":{"field":"x","type":"quantitative","scale":{"domain":[59.3,96.8],"nice":false},"axis":{"values":[60,65,70,75,80,85,90,95],"title":"Temperature (°C)","titlePadding":5}},"y":{"field":"y","type":"quantitative","scale":{"domain":[-0.49,4.38],"nice":false,"zero":false},"axis":{"values":[0.049,0.549,1.049,1.549,2.049,2.549,3.049,3.549,4.049],"format":".3f","title":"-(d/dT) Fluorescence (465-510)","minExtent":15,"maxExtent":15}},"detail":{"field":"c","type":"nominal"}}}
  ]}
 ]}
]}
]
}
